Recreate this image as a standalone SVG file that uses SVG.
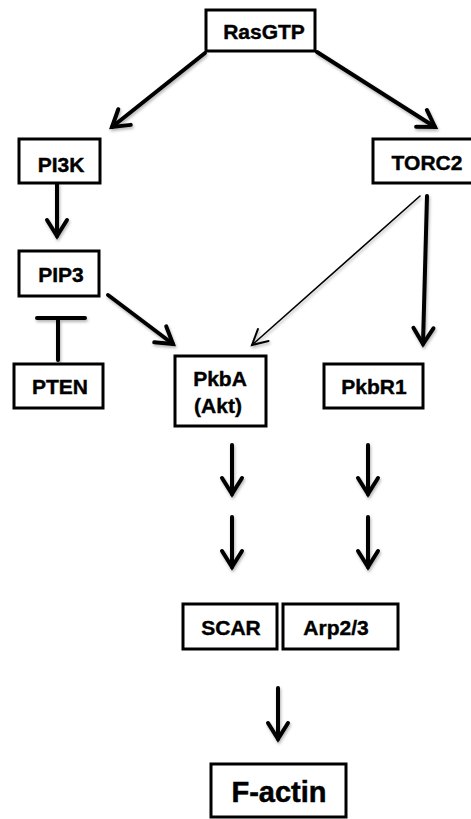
<svg xmlns="http://www.w3.org/2000/svg" width="471" height="819" viewBox="0 0 471 819">
<defs>
<style>
.box{fill:#fff;stroke:#000;stroke-width:3}
.lbl{font-family:"Liberation Sans",Arial,sans-serif;font-weight:bold;font-size:21px;fill:#000;stroke:#000;stroke-width:0.4;text-anchor:middle}
.big{font-size:29px;stroke-width:0.5}
.thick{stroke:#000;stroke-width:4;fill:none;stroke-linecap:round}
.thin{stroke:#000;stroke-width:1.6;fill:none;stroke-linecap:round}
</style>
<filter id="sh" x="-20%" y="-20%" width="140%" height="140%">
<feDropShadow dx="1" dy="2" stdDeviation="1.5" flood-color="#000" flood-opacity="0.3"/>
</filter>
<marker id="ah" markerUnits="userSpaceOnUse" viewBox="-22 -14 26 28" markerWidth="26" markerHeight="28" refX="0" refY="0" orient="auto">
<path d="M-16,-10 L0,0 L-16,10" fill="none" stroke="#000" stroke-width="4" stroke-linecap="round" stroke-linejoin="miter"/>
</marker>
<marker id="ahs" markerUnits="userSpaceOnUse" viewBox="-20 -12 24 24" markerWidth="24" markerHeight="24" refX="0" refY="0" orient="auto">
<path d="M-15,-8 L0,0 L-15,8" fill="none" stroke="#000" stroke-width="2" stroke-linecap="round"/>
</marker>
</defs>
<g id="connectors" filter="url(#sh)">
<line class="thick" x1="205" y1="53" x2="112" y2="127" marker-end="url(#ah)"/>
<line class="thick" x1="317" y1="52" x2="435" y2="127" marker-end="url(#ah)"/>
<line class="thick" x1="57" y1="184" x2="57" y2="236" marker-end="url(#ah)"/>
<line class="thick" x1="108" y1="295" x2="173" y2="344" marker-end="url(#ah)"/>
<line class="thin" x1="420" y1="196" x2="252" y2="345" marker-end="url(#ahs)"/>
<line class="thick" x1="427" y1="196" x2="423" y2="344" marker-end="url(#ah)"/>
<line class="thick" x1="58" y1="319" x2="58" y2="360"/>
<line class="thick" x1="37" y1="318" x2="85" y2="318" stroke-linecap="butt"/>
<line class="thick" x1="232" y1="445" x2="232" y2="494" marker-end="url(#ah)"/>
<line class="thick" x1="232" y1="517" x2="232" y2="567" marker-end="url(#ah)"/>
<line class="thick" x1="368" y1="445" x2="368" y2="494" marker-end="url(#ah)"/>
<line class="thick" x1="368" y1="517" x2="368" y2="567" marker-end="url(#ah)"/>
<line class="thick" x1="278" y1="688" x2="278" y2="739" marker-end="url(#ah)"/>
</g>
<g id="RasGTP"><rect class="box" x="206" y="10" width="109" height="41"/><text class="lbl" x="264" y="39">RasGTP</text></g>
<g id="PI3K"><rect class="box" x="19" y="139" width="81" height="44"/><text class="lbl" x="61" y="172">PI3K</text></g>
<g id="TORC2"><rect class="box" x="373" y="139" width="102" height="44"/><text class="lbl" x="427" y="170">TORC2</text></g>
<g id="PIP3"><rect class="box" x="19" y="251" width="80" height="45"/><text class="lbl" x="61" y="282">PIP3</text></g>
<g id="PTEN"><rect class="box" x="14" y="364" width="89" height="44"/><text class="lbl" x="60" y="394">PTEN</text></g>
<g id="PkbA"><rect class="box" x="175" y="356" width="91" height="70"/><text class="lbl" x="220" y="386">PkbA</text><text class="lbl" x="218" y="413">(Akt)</text></g>
<g id="PkbR1"><rect class="box" x="324" y="364" width="99" height="44"/><text class="lbl" x="374" y="394">PkbR1</text></g>
<g id="SCAR"><rect class="box" x="183" y="604" width="94" height="45"/><text class="lbl" x="231" y="635">SCAR</text></g>
<g id="Arp23"><rect class="box" x="283" y="604" width="115" height="45"/><text class="lbl" x="336" y="635">Arp2/3</text></g>
<g id="Factin"><rect class="box" x="211" y="764" width="135" height="53"/><text class="lbl big" x="279" y="802">F-actin</text></g>
</svg>
